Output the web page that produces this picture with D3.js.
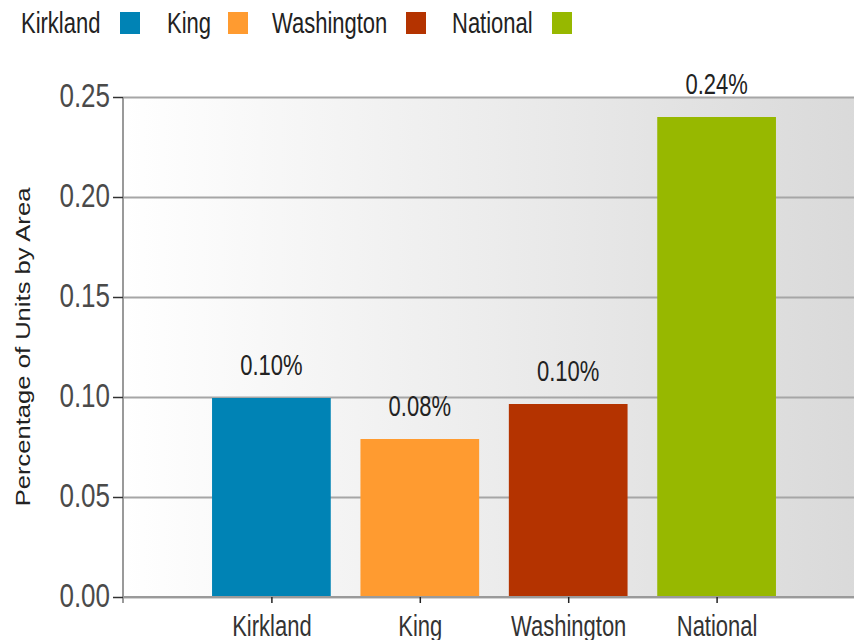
<!DOCTYPE html>
<meta charset="utf-8">
<style>
  body { margin: 0; background: #fff; }
  svg { display: block; }
  .tick text { font-family: "Liberation Sans", Arial, sans-serif; }
</style>
<script src="https://d3js.org/d3.v7.min.js"></script>
<div id="chart"></div>
<script>
// data
var categories = ["Kirkland", "King", "Washington", "National"];
var values = [0.0995, 0.079, 0.0965, 0.24];
var valueLabels = ["0.10%", "0.08%", "0.10%", "0.24%"];
var colors = ["#0083b5", "#ff9b30", "#b43300", "#97b800"];
var yTicks = [0, 0.05, 0.10, 0.15, 0.20, 0.25];

var W = 854, H = 640;
var plotL = 123, plotT = 97, plotB = 597, plotR = 865;
var stretch = 1.3; // the original text is drawn tall and narrow

var svg = d3.select("#chart").append("svg")
    .attr("width", W).attr("height", H);

// background gradient of the plot area
var grad = svg.append("defs").append("linearGradient")
    .attr("id", "bg").attr("x1", "0").attr("x2", "1").attr("y1", "0").attr("y2", "0");
grad.append("stop").attr("offset", "0").attr("stop-color", "#ffffff");
grad.append("stop").attr("offset", "1").attr("stop-color", "#d9d9d9");

svg.append("rect")
    .attr("x", plotL).attr("y", plotT)
    .attr("width", plotR - plotL).attr("height", plotB - plotT)
    .attr("fill", "url(#bg)");

var y = d3.scaleLinear().domain([0, 0.25]).range([plotB, plotT]);
// categories sit on slots 1..4 of a 0..5 axis
var x = d3.scaleLinear().domain([0, 5]).range([plotL, plotR]);
var slot = x(1) - x(0);
var barW = slot * 0.8;

// gridlines
svg.append("g")
    .attr("transform", "translate(" + plotL + ",0)")
    .call(d3.axisLeft(y).tickValues(yTicks).tickSize(-(plotR - plotL)).tickFormat(""))
    .call(function(g) {
        g.select(".domain").remove();
        g.selectAll("line").attr("stroke", "#a6a6a6").attr("stroke-width", 2);
    });

// bars
svg.selectAll(".bar")
    .data(values)
    .enter().append("rect")
    .attr("x", function(d, i) { return x(i + 1) - barW / 2; })
    .attr("y", function(d) { return y(d); })
    .attr("width", barW)
    .attr("height", function(d) { return plotB - y(d); })
    .attr("fill", function(d, i) { return colors[i]; });

// value labels
svg.selectAll(".vlab")
    .data(values)
    .enter().append("text")
    .attr("transform", function(d, i) {
        return "translate(" + x(i + 1) + "," + (y(d) - 23) + ") scale(1," + stretch + ")";
    })
    .attr("text-anchor", "middle")
    .attr("font-family", "Liberation Sans, Arial, sans-serif")
    .attr("font-size", 22)
    .attr("fill", "#222")
    .text(function(d, i) { return valueLabels[i]; });

// y axis
svg.append("g")
    .attr("transform", "translate(" + plotL + ",0)")
    .call(d3.axisLeft(y).tickValues(yTicks).tickFormat(d3.format(".2f")).tickSize(10).tickPadding(3))
    .call(function(g) {
        g.select(".domain").attr("stroke", "#9a9a9a").attr("stroke-width", 2)
            .attr("d", "M0," + plotT + "V" + (plotB + 6));
        g.selectAll("line").attr("stroke", "#333").attr("stroke-width", 1.5);
        g.selectAll("text").attr("font-size", 26).attr("fill", "#4a4a4a")
            .attr("y", 0).attr("dy", 0)
            .attr("transform", "translate(0,9) scale(1," + stretch + ")");
    });

// x axis
svg.append("g")
    .attr("transform", "translate(0," + plotB + ")")
    .call(d3.axisBottom(x).tickValues([1, 2, 3, 4])
        .tickFormat(function(d) { return categories[d - 1]; })
        .tickSize(6))
    .call(function(g) {
        g.select(".domain").attr("stroke", "#9a9a9a").attr("stroke-width", 2)
            .attr("d", "M" + plotL + ",0H" + W);
        g.selectAll("line").attr("stroke", "#222").attr("stroke-width", 1.5);
        g.selectAll("text").attr("font-size", 22).attr("fill", "#333")
            .attr("y", 0).attr("dy", 0)
            .attr("transform", "translate(0,39) scale(1," + stretch + ")");
    });

// y title
svg.append("text")
    .attr("transform", "translate(30,347) rotate(-90) scale(" + 1.28 + ",1)")
    .attr("text-anchor", "middle")
    .attr("font-family", "Liberation Sans, Arial, sans-serif")
    .attr("font-size", 20)
    .attr("fill", "#222")
    .text("Percentage of Units by Area");

// legend
var legX = [21, 167, 272, 452];
var swX = [120, 228, 406, 552];
var leg = svg.append("g");
categories.forEach(function(c, i) {
    leg.append("text")
        .attr("transform", "translate(" + legX[i] + ",33) scale(1," + stretch + ")")
        .attr("font-family", "Liberation Sans, Arial, sans-serif")
        .attr("font-size", 22)
        .attr("fill", "#222")
        .text(c);
    leg.append("rect")
        .attr("x", swX[i]).attr("y", 12)
        .attr("width", 20).attr("height", 22)
        .attr("fill", colors[i]);
});
</script>
